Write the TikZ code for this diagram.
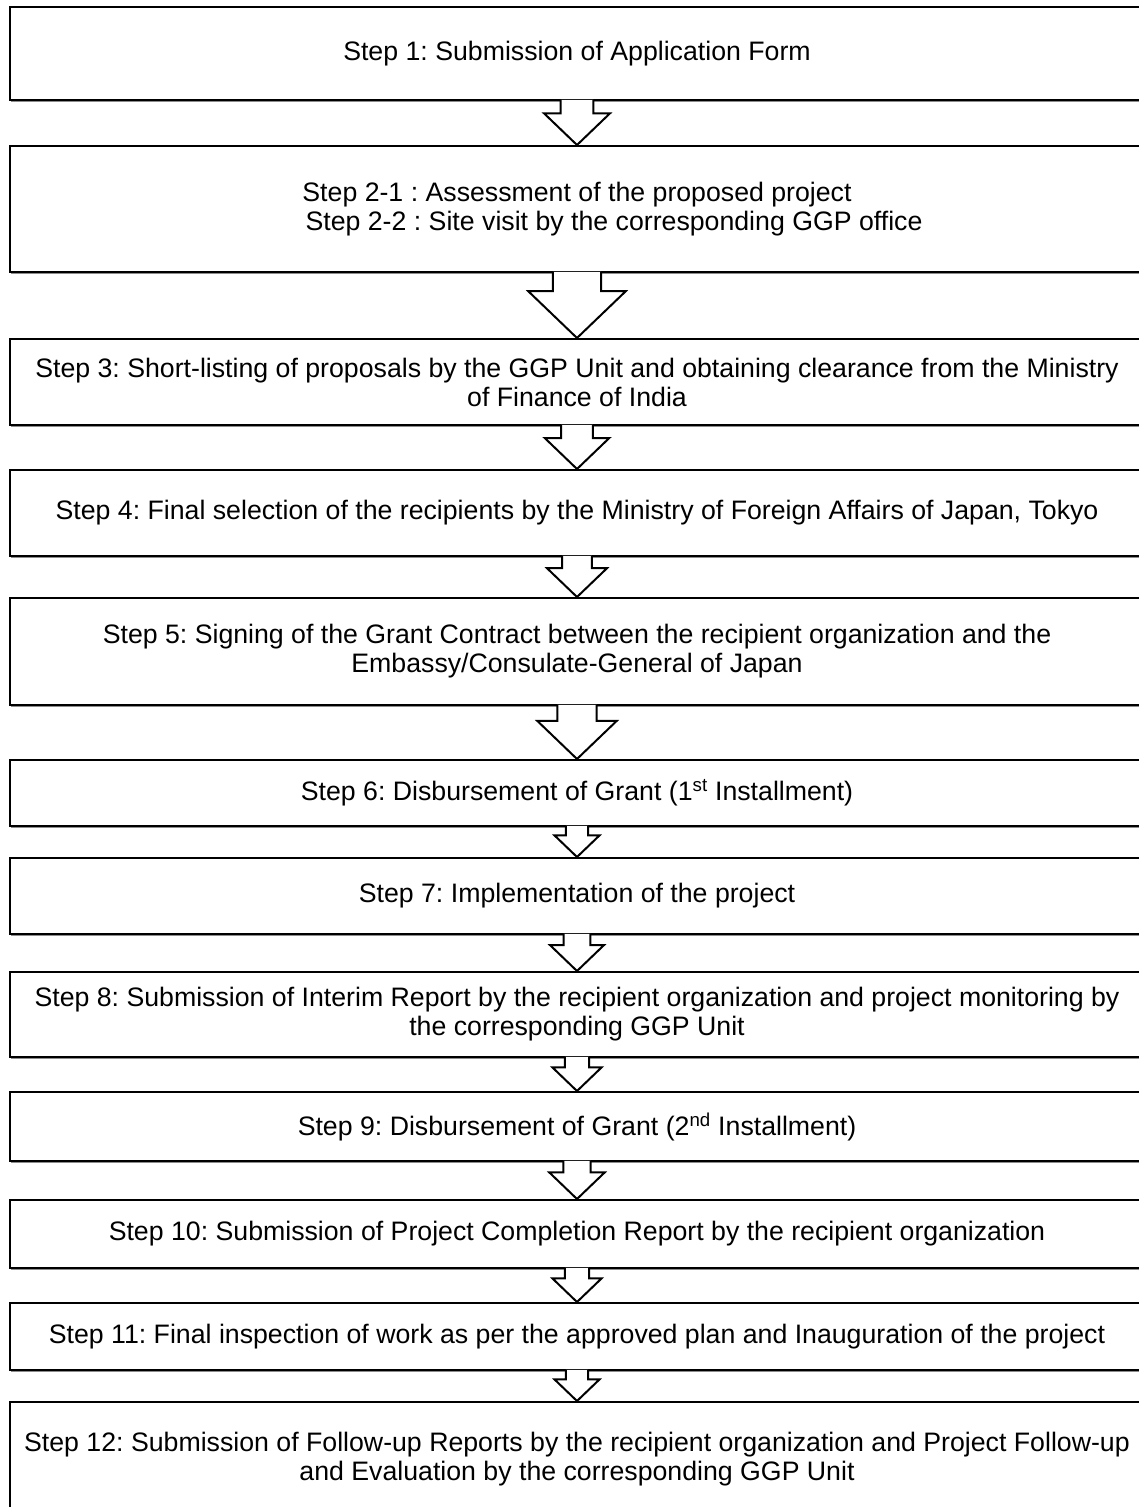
\documentclass[tikz,border=0pt]{standalone}
\usepackage{fontspec}
\setmainfont{Liberation Sans}
\usetikzlibrary{calc,shadows}

\tikzset{
  stepbox/.style={draw, line width=2pt, fill=white, align=center, inner sep=0pt,
    minimum width=1134pt, font=\fontsize{26.7}{29}\selectfont\frenchspacing,
    drop shadow={shadow xshift=1pt, shadow yshift=-1.5pt, fill=black!45, opacity=1}},
  blockarr/.style={draw, line width=2pt, fill=white, line join=miter}
}

\begin{document}
\begin{tikzpicture}[x=1pt,y=-1pt]

\newcommand\nextstep[2]{%
  \path[blockarr] let \p1=(#1.south), \p2=(#2.north), \n1={\y1-\y2} in
    (\x1-0.37*\n1,\y1+1.2pt) -- (\x1-0.37*\n1,\y1-0.28*\n1)
    -- (\x1-0.75*\n1,\y1-0.28*\n1) -- (\x1,\y2)
    -- (\x1+0.75*\n1,\y1-0.28*\n1) -- (\x1+0.37*\n1,\y1-0.28*\n1)
    -- (\x1+0.37*\n1,\y1+1.2pt);}

\useasboundingbox (0,0) rectangle (1138,1507);

  %% steps
  \node[stepbox, minimum height=93pt] (s1) at (577,53.5)
    {Step 1: Submission of Application Form};
  \node[stepbox, minimum height=126pt] (s2) at (577,209)
    {Step 2-1 : Assessment of the proposed project\\
     \hspace*{74pt}Step 2-2 : Site visit by the corresponding GGP office};
  \node[stepbox, minimum height=86pt] (s3) at (577,382)
    {Step 3: Short-listing of proposals by the GGP Unit and obtaining clearance from the Ministry\\
     of Finance of India};
  \node[stepbox, minimum height=86pt] (s4) at (577,513)
    {Step 4: Final selection of the recipients by the Ministry of Foreign Affairs of Japan, Tokyo};
  \node[stepbox, minimum height=107pt] (s5) at (577,651.5)
    {Step 5: Signing of the Grant Contract between the recipient organization and the\\
     Embassy/Consulate-General of Japan};
  \node[stepbox, minimum height=66pt] (s6) at (577,793)
    {Step 6: Disbursement of Grant (1\textsuperscript{st} Installment)};
  \node[stepbox, minimum height=76pt] (s7) at (577,896)
    {Step 7: Implementation of the project};
  \node[stepbox, minimum height=85pt] (s8) at (577,1014.5)
    {Step 8: Submission of Interim Report by the recipient organization and project monitoring by\\
     the corresponding GGP Unit};
  \node[stepbox, minimum height=69pt] (s9) at (577,1126.5)
    {Step 9: Disbursement of Grant (2\textsuperscript{nd} Installment)};
  \node[stepbox, minimum height=68pt] (s10) at (577,1234)
    {Step 10: Submission of Project Completion Report by the recipient organization};
  \node[stepbox, minimum height=67pt] (s11) at (577,1336.5)
    {Step 11: Final inspection of work as per the approved plan and Inauguration of the project};
  \node[stepbox, minimum height=114pt] (s12) at (577,1459)
    {Step 12: Submission of Follow-up Reports by the recipient organization and Project Follow-up\\
     and Evaluation by the corresponding GGP Unit};

  %% arrows between steps
  \foreach \i [evaluate=\i as \j using int(\i+1)] in {1,...,11}
    \nextstep{s\i}{s\j};

\end{tikzpicture}
\end{document}
